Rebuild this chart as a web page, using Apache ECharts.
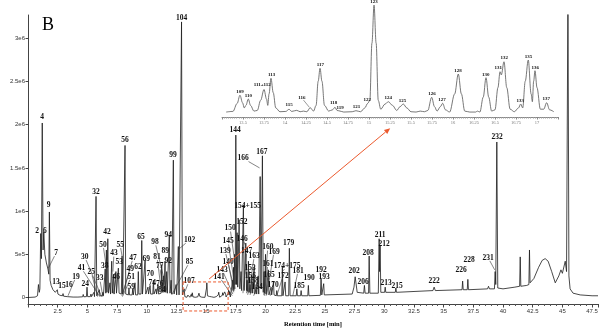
<!DOCTYPE html>
<html>
<head>
<meta charset="utf-8">
<script src="https://cdn.jsdelivr.net/npm/echarts@6/dist/echarts.min.js"></script>
<style>
  html, body { margin: 0; padding: 0; background: #fff; }
  #chart { width: 600px; height: 328px; }
</style>
</head>
<body>
<div id="chart"></div>
<script>
// Base peak chromatogram, [retention time (min), intensity (counts)]
const traceEarly = [
  [0, 0], [0.6, 0.005e6], [0.8, 0.02e6], [0.88, 0.15e6], [0.95, 0.06e6], [1.0, 0.1e6],
  [1.07, 0.74e6], [1.13, 0.45e6], [1.2, 2.02e6], [1.27, 0.55e6], [1.33, 0.76e6],
  [1.42, 0.5e6], [1.55, 0.4e6], [1.68, 0.33e6], [1.75, 0.27e6], [1.8, 0.99e6],
  [1.86, 0.2e6], [1.95, 0.14e6], [2.1, 0.09e6], [2.3, 0.06e6], [2.42, 0.05e6],
  [2.47, 0.09e6], [2.52, 0.04e6], [2.62, 0.03e6], [2.66, 0.05e6], [2.7, 0.025e6],
  [2.9, 0.02e6], [2.95, 0.045e6], [3.0, 0.015e6], [3.3, 0.01e6], [3.36, 0.03e6],
  [3.42, 0.008e6], [3.8, 0.005e6], [4.2, 0.005e6], [4.25, 0.025e6], [4.3, 0.005e6],
  [4.6, 0.008e6], [4.65, 0.035e6], [4.7, 0.008e6], [4.92, 0.01e6], [4.97, 0.12e6],
  [5.02, 0.01e6], [5.25, 0.01e6], [5.3, 0.04e6], [5.35, 0.01e6], [5.5, 0.01e6],
  [5.55, 0.06e6], [5.6, 0.01e6], [5.67, 0.01e6], [5.73, 1.17e6], [5.79, 0.02e6],
  [5.95, 0.02e6], [6.0, 0.09e6], [6.05, 0.02e6], [6.25, 0.02e6], [6.3, 0.06e6],
  [6.35, 0.02e6], [6.45, 0.03e6], [6.5, 0.33e6], [6.55, 0.05e6], [6.6, 0.55e6],
  [6.65, 0.06e6], [6.72, 0.68e6], [6.78, 0.05e6], [6.85, 0.04e6], [6.9, 0.17e6],
  [6.95, 0.04e6], [7.0, 0.05e6], [7.05, 0.42e6], [7.1, 0.05e6], [7.15, 0.05e6],
  [7.2, 0.27e6], [7.25, 0.04e6], [7.35, 0.04e6], [7.4, 0.3e6], [7.45, 0.05e6],
  [7.55, 0.05e6], [7.61, 0.34e6], [7.67, 0.05e6], [7.86, 0.04e6], [7.92, 0.48e6],
  [7.98, 0.04e6], [8.11, 0.04e6], [8.17, 1.76e6], [8.23, 0.04e6], [8.3, 0.03e6],
  [8.45, 0.03e6], [8.5, 0.1e6], [8.55, 0.03e6], [8.77, 0.03e6], [8.82, 0.1e6],
  [8.87, 0.03e6], [8.96, 0.03e6], [9.01, 0.17e6], [9.06, 0.03e6], [9.24, 0.03e6],
  [9.29, 0.3e6], [9.34, 0.04e6], [9.52, 0.04e6], [9.58, 0.66e6], [9.64, 0.04e6],
  [9.8, 0.04e6], [9.86, 0.43e6], [9.92, 0.04e6], [10.05, 0.04e6], [10.1, 0.12e6],
  [10.15, 0.04e6], [10.23, 0.04e6], [10.28, 0.14e6], [10.33, 0.04e6], [10.51, 0.04e6],
  [10.56, 0.2e6], [10.61, 0.04e6], [10.73, 0.04e6], [10.78, 0.1e6], [10.83, 0.04e6],
  [10.9, 0.04e6], [10.95, 0.15e6], [11.0, 0.04e6], [11.21, 0.05e6], [11.26, 0.38e6],
  [11.31, 0.06e6], [11.36, 0.06e6], [11.4, 0.25e6], [11.45, 0.06e6], [11.5, 0.06e6],
  [11.54, 0.42e6], [11.59, 0.06e6], [11.64, 0.06e6], [11.68, 0.3e6], [11.73, 0.05e6],
  [11.84, 0.05e6], [11.9, 0.72e6], [11.96, 0.05e6], [12.0, 0.05e6], [12.05, 0.2e6],
  [12.1, 0.04e6], [12.18, 0.04e6], [12.24, 1.59e6], [12.3, 0.04e6], [12.42, 0.03e6],
  [12.47, 0.15e6], [12.52, 0.03e6], [12.6, 0.03e6], [12.66, 0.59e6], [12.72, 0.03e6],
  [12.86, 0.03e6], [12.93, 3.19e6], [13.0, 0.03e6], [13.08, 0.02e6], [13.15, 0.1e6],
  [13.21, 0.01e6]
];

// 13.3 - 17.2 min, the stretch shown enlarged in the inset
const traceZoom = [
  [13.3, 1.5e3], [13.38, 2.5e3], [13.43, 15e3], [13.464, 28e3], [13.495, 16e3],
  [13.515, 8e3], [13.535, 12e3], [13.563, 22e3], [13.59, 12e3], [13.63, 3e3],
  [13.67, 4e3], [13.71, 20e3], [13.75, 37e3], [13.78, 22e3], [13.795, 12e3],
  [13.81, 30e3], [13.833, 54.6e3], [13.86, 32e3], [13.89, 8e3], [13.94, 2e3],
  [14.01, 2.5e3], [14.048, 5.8e3], [14.08, 2.5e3], [14.14, 4.2e3], [14.18, 2e3],
  [14.22, 3e3], [14.26, 2e3], [14.3, 8.3e3], [14.34, 3e3], [14.37, 12e3],
  [14.395, 50e3], [14.417, 70.4e3], [14.44, 50e3], [14.47, 12e3], [14.52, 3e3],
  [14.565, 5e3], [14.595, 9e3], [14.62, 4e3], [14.64, 3.5e3], [14.7, 1.5e3],
  [14.8, 2e3], [14.845, 3.6e3], [14.9, 2e3], [14.95, 8e3], [14.985, 15.3e3],
  [15.01, 20e3], [15.035, 110e3], [15.06, 170e3], [15.085, 110e3], [15.11, 20e3],
  [15.14, 6e3], [15.19, 14e3], [15.23, 17.8e3], [15.28, 12e3], [15.33, 4e3],
  [15.37, 10e3], [15.408, 14.2e3], [15.45, 8e3], [15.5, 2e3], [15.56, 1.5e3],
  [15.61, 3e3], [15.66, 2e3], [15.7, 4e3], [15.746, 24.7e3], [15.78, 10e3],
  [15.81, 3e3], [15.85, 10e3], [15.877, 15.3e3], [15.91, 5e3], [15.96, 1.5e3],
  [16.02, 30e3], [16.063, 61.4e3], [16.1, 30e3], [16.14, 3e3], [16.2, 1.5e3],
  [16.27, 1.5e3], [16.29, 3e3], [16.32, 1.5e3], [16.36, 25e3], [16.393, 55.6e3],
  [16.425, 25e3], [16.46, 3e3], [16.5, 5e3], [16.535, 40e3], [16.56, 65e3],
  [16.575, 60e3], [16.607, 80.7e3], [16.64, 40e3], [16.68, 6e3], [16.73, 2e3],
  [16.78, 8e3], [16.806, 14.2e3], [16.83, 8e3], [16.86, 50e3], [16.896, 83.4e3],
  [16.93, 30e3], [16.945, 17.8e3], [16.96, 50e3], [16.976, 66.6e3], [17.0, 40e3],
  [17.04, 6e3], [17.08, 6e3], [17.115, 16.2e3], [17.15, 5e3], [17.2, 2e3]
];

const traceLate = [
  [17.23, 0.2e6], [17.27, 0.08e6], [17.31, 0.35e6], [17.35, 0.1e6], [17.4, 0.5e6],
  [17.45, 0.15e6], [17.5, 1.88e6], [17.56, 0.15e6], [17.61, 0.75e6], [17.66, 0.12e6],
  [17.72, 0.1e6], [17.78, 0.9e6], [17.84, 0.1e6], [17.89, 0.08e6], [17.94, 0.3e6],
  [17.99, 0.08e6], [18.08, 0.08e6], [18.14, 1.07e6], [18.2, 0.08e6], [18.28, 0.08e6],
  [18.34, 0.63e6], [18.4, 0.08e6], [18.45, 0.2e6], [18.5, 0.07e6], [18.56, 0.42e6],
  [18.62, 0.06e6], [18.7, 0.15e6], [18.77, 0.05e6], [18.85, 0.25e6], [18.92, 0.05e6],
  [19.04, 0.35e6], [19.1, 0.04e6], [19.16, 0.04e6], [19.21, 0.12e6], [19.26, 0.04e6],
  [19.33, 0.04e6], [19.38, 0.25e6], [19.43, 0.04e6], [19.49, 0.05e6], [19.55, 1.4e6],
  [19.62, 0.1e6], [19.66, 0.1e6], [19.74, 1.64e6], [19.81, 0.06e6], [19.84, 0.06e6],
  [19.88, 0.3e6], [19.93, 0.05e6], [19.96, 0.05e6], [20.0, 0.5e6], [20.05, 0.04e6],
  [20.19, 0.04e6], [20.24, 0.32e6], [20.29, 0.03e6], [20.42, 0.03e6], [20.47, 0.12e6],
  [20.52, 0.03e6], [20.62, 0.03e6], [20.67, 0.18e6], [20.72, 0.03e6], [20.9, 0.02e6],
  [20.95, 0.08e6], [21.0, 0.02e6], [21.37, 0.02e6], [21.42, 0.36e6], [21.47, 0.02e6],
  [21.6, 0.02e6], [21.65, 0.18e6], [21.7, 0.02e6], [21.95, 0.02e6], [22.01, 0.57e6],
  [22.07, 0.02e6], [22.59, 0.02e6], [22.64, 0.1e6], [22.69, 0.02e6], [22.95, 0.02e6],
  [23.0, 0.08e6], [23.05, 0.02e6], [23.56, 0.02e6], [23.61, 0.14e6], [23.66, 0.02e6],
  [24.62, 0.025e6], [24.68, 0.22e6], [24.74, 0.03e6], [24.85, 0.03e6], [24.9, 0.16e6],
  [24.95, 0.03e6], [27.3, 0.04e6], [27.45, 0.12e6], [27.55, 0.24e6], [27.62, 0.22e6],
  [27.72, 0.06e6], [28.27, 0.05e6], [28.33, 0.14e6], [28.39, 0.05e6], [28.68, 0.05e6],
  [28.73, 0.48e6], [28.79, 0.05e6], [29.5, 0.05e6], [29.57, 0.68e6], [29.61, 0.3e6],
  [29.65, 0.6e6], [29.71, 0.06e6], [30.03, 0.06e6], [30.08, 0.12e6], [30.13, 0.06e6],
  [30.93, 0.06e6], [30.98, 0.11e6], [31.03, 0.06e6], [34.1, 0.08e6], [34.2, 0.12e6],
  [34.3, 0.08e6], [36.55, 0.09e6], [36.6, 0.19e6], [36.65, 0.09e6], [36.99, 0.09e6],
  [37.04, 0.21e6], [37.09, 0.09e6], [38.7, 0.1e6], [38.78, 0.13e6], [38.86, 0.1e6],
  [39.28, 0.1e6], [39.34, 0.3e6], [39.39, 0.15e6], [39.48, 1.8e6], [39.56, 0.11e6],
  [40.0, 0.1e6], [41.0, 0.12e6], [41.4, 0.13e6], [41.45, 0.47e6], [41.5, 0.13e6],
  [42.0, 0.14e6], [42.18, 0.15e6], [42.23, 0.55e6], [42.28, 0.17e6], [42.6, 0.22e6],
  [43.0, 0.35e6], [43.3, 0.43e6], [43.55, 0.45e6], [43.8, 0.42e6], [44.1, 0.3e6],
  [44.4, 0.17e6], [44.7, 0.25e6], [44.88, 0.32e6], [45.0, 0.28e6], [45.24, 0.42e6],
  [45.35, 0.3e6], [45.47, 3.6e6], [45.55, 0.25e6], [45.65, 0.1e6], [45.9, 0.05e6],
  [46.5, 0.03e6], [47.5, 0.02e6], [48.0, 0.02e6]
];

const yTicks = [0, 0.5e6, 1e6, 1.5e6, 2e6, 2.5e6, 3e6];
const xTickLabels = [2.5, 5, 7.5, 10, 12.5, 15, 17.5, 20, 22.5, 25, 27.5, 30, 32.5, 35, 37.5, 40, 42.5, 45, 47.5];
const zoomTickLabels = [13.5, 13.75, 14, 14.25, 14.5, 14.75, 15, 15.25, 15.5, 15.75, 16, 16.25, 16.5, 16.75, 17];

// Peak numbers: [label, time, counts] placement, optional [time, counts] the leader points to
const mainTags = [
  ['4', 1.18, 2.09e6], ['2', 0.76, 0.77e6], ['6', 1.43, 0.77e6], ['9', 1.74, 1.07e6],
  ['7', 2.36, 0.515e6, 1.72, 0.34e6], ['13', 2.36, 0.18e6], ['15', 2.86, 0.133e6],
  ['16', 3.45, 0.145e6], ['19', 4.04, 0.24e6, 3.37, 0.02e6], ['24', 4.83, 0.155e6],
  ['41', 4.5, 0.34e6, 6.04, 0.01e6], ['25', 5.33, 0.29e6, 5.86, 0.01e6],
  ['30', 4.78, 0.47e6, 6.2, 0.01e6], ['33', 6.04, 0.22e6, 6.3, 0.01e6],
  ['32', 5.73, 1.22e6], ['38', 6.46, 0.36e6], ['50', 6.32, 0.61e6, 6.6, 0.35e6],
  ['42', 6.66, 0.76e6], ['43', 7.24, 0.51e6, 7.15, 0.3e6], ['55', 7.76, 0.61e6, 7.92, 0.48e6],
  ['53', 7.68, 0.41e6], ['46', 7.43, 0.24e6, 7.2, 0.05e6], ['47', 8.85, 0.46e6, 7.98, 0.04e6],
  ['49', 8.6, 0.33e6, 7.9, 0.02e6], ['51', 8.7, 0.24e6, 7.95, 0.01e6], ['59', 8.7, 0.12e6],
  ['62', 9.27, 0.35e6], ['65', 9.52, 0.7e6], ['69', 9.96, 0.45e6], ['70', 10.3, 0.27e6],
  ['74', 10.46, 0.17e6], ['76', 11.1, 0.16e6, 10.8, 0.06e6], ['84', 11.29, 0.09e6],
  ['81', 10.87, 0.47e6, 11.2, 0.1e6], ['77', 11.1, 0.36e6, 11.38, 0.06e6],
  ['98', 10.7, 0.64e6, 11.75, 0.05e6], ['89', 11.55, 0.54e6], ['92', 11.8, 0.42e6],
  ['94', 11.8, 0.72e6], ['99', 12.22, 1.65e6], ['56', 8.17, 1.82e6], ['104', 12.93, 3.23e6],
  ['102', 13.6, 0.665e6, 12.7, 0.56e6], ['85', 13.6, 0.41e6, 12.1, 0.03e6],
  ['107', 13.56, 0.19e6, 13.22, 0.07e6],
  ['141', 16.1, 0.24e6, 17.2, 0.02e6], ['143', 16.35, 0.32e6, 17.25, 0.04e6],
  ['140', 16.85, 0.41e6, 17.33, 0.06e6], ['139', 16.6, 0.54e6, 17.4, 0.08e6],
  ['145', 16.85, 0.65e6, 17.45, 0.1e6], ['150', 17.02, 0.8e6, 17.58, 0.25e6],
  ['144', 17.44, 1.94e6], ['152', 18.0, 0.87e6], ['154+155', 18.5, 1.06e6],
  ['146', 18.03, 0.68e6, 18.34, 0.6e6], ['147', 18.42, 0.54e6, 18.1, 0.05e6],
  ['163', 19.05, 0.48e6, 18.6, 0.05e6], ['153', 18.7, 0.34e6, 18.4, 0.05e6],
  ['156', 18.72, 0.25e6, 18.5, 0.03e6], ['158', 18.96, 0.19e6, 18.7, 0.03e6],
  ['164', 19.3, 0.12e6, 19.0, 0.02e6], ['166', 18.11, 1.61e6, 19.5, 1.5e6],
  ['167', 19.7, 1.68e6], ['160', 20.2, 0.58e6, 19.85, 0.03e6],
  ['169', 20.72, 0.53e6, 20.1, 0.03e6], ['161', 20.2, 0.39e6, 19.9, 0.02e6],
  ['165', 20.3, 0.26e6, 20.05, 0.02e6], ['170', 20.64, 0.145e6, 20.4, 0.02e6],
  ['174+175', 21.82, 0.365e6, 21.42, 0.3e6], ['172', 21.48, 0.25e6, 20.95, 0.02e6],
  ['179', 21.95, 0.63e6], ['181', 22.75, 0.31e6, 22.3, 0.02e6], ['185', 22.83, 0.133e6],
  ['190', 23.67, 0.23e6], ['192', 24.68, 0.32e6], ['193', 24.94, 0.24e6],
  ['202', 27.46, 0.31e6], ['206', 28.22, 0.18e6], ['208', 28.64, 0.515e6],
  ['211', 29.65, 0.72e6], ['212', 29.99, 0.62e6], ['213', 30.16, 0.17e6],
  ['215', 31.09, 0.13e6], ['222', 34.2, 0.19e6], ['226', 36.48, 0.32e6],
  ['228', 37.15, 0.43e6], ['231', 38.75, 0.46e6, 39.3, 0.32e6], ['232', 39.51, 1.86e6]
];

const zoomTags = [
  ['109', 13.464, 34e3], ['110', 13.563, 28e3], ['111+112', 13.73, 45e3], ['113', 13.84, 60e3],
  ['115', 14.05, 12.5e3], ['116', 14.2, 23.6e3, 14.29, 9e3], ['117', 14.42, 76e3],
  ['118', 14.58, 15.5e3], ['119', 14.655, 8.5e3], ['121', 14.85, 9.5e3], ['122', 14.98, 21.5e3],
  ['123', 15.06, 175e3], ['124', 15.23, 23.6e3], ['125', 15.4, 19e3], ['126', 15.75, 31e3],
  ['127', 15.87, 21.5e3], ['128', 16.06, 67e3], ['130', 16.39, 61e3], ['131', 16.54, 71e3],
  ['132', 16.61, 87e3], ['133', 16.8, 20e3], ['135', 16.9, 89e3], ['136', 16.98, 72e3],
  ['137', 17.11, 22e3]
];

// Enlarged window (t0, counts0, t1, counts1) and the arrow pointing at the inset
const zoomBox = [13.06, 0.18e6, 16.85, -0.156e6];
const zoomArrow = [15.25, 0.214e6, 30.5, 1.96e6];

const SERIF = '"Liberation Serif", "Times New Roman", serif';
const SANS = '"Liberation Sans", Arial, sans-serif';
const RED = '#ec5a2e';

function tagRenderer(tags, fontSize, lineColor) {
  return function (params, api) {
    const d = tags[params.dataIndex];
    const p = api.coord([d[1], d[2]]);
    const kids = [];
    if (d.length > 3) {
      const q = api.coord([d[3], d[4]]);
      const dx = q[0] - p[0], dy = q[1] - p[1];
      const len = Math.hypot(dx, dy) || 1;
      const ux = dx / len, uy = dy / len;
      const hw = d[0].length * fontSize * 0.27 + 0.5;
      const hh = fontSize * 0.42;
      const s = Math.min(Math.abs(ux) > 1e-6 ? hw / Math.abs(ux) : 1e9,
                         Math.abs(uy) > 1e-6 ? hh / Math.abs(uy) : 1e9);
      kids.push({
        type: 'line',
        shape: { x1: p[0] + ux * s, y1: p[1] + uy * s, x2: q[0], y2: q[1] },
        style: { stroke: lineColor, lineWidth: 0.6 }
      });
    }
    kids.push({
      type: 'text', x: p[0], y: p[1],
      style: {
        text: d[0], fontSize: fontSize, fontWeight: 'bold', fontFamily: SERIF,
        fill: '#111', align: 'center', verticalAlign: 'middle'
      }
    });
    return { type: 'group', children: kids };
  };
}

function yLabel(v) {
  if (v === 0) return '0';
  if (v < 1e6) return (v / 1e5) + 'e5';
  return (v / 1e6) + 'e6';
}

const chart = echarts.init(document.getElementById('chart'), null, { renderer: 'canvas' });

chart.setOption({
  animation: false,
  backgroundColor: '#fff',
  graphic: [{
    type: 'text', left: 42, top: 16,
    style: { text: 'B', fontSize: 18, fontFamily: SERIF, fill: '#000' }
  }],
  grid: [
    { left: 28, right: 2, top: 15, bottom: 24, outerBoundsMode: 'none', containLabel: false },
    { left: 222, right: 42, top: 0, height: 117, outerBoundsMode: 'none', containLabel: false }
  ],
  xAxis: [{
    type: 'value', gridIndex: 0, min: 0, max: 48, interval: 2.5,
    name: 'Retention time [min]', nameLocation: 'middle', nameGap: 17,
    nameTextStyle: { fontFamily: SERIF, fontWeight: 'bold', fontSize: 6.5, color: '#000' },
    axisLine: { show: true, onZero: false, lineStyle: { color: '#444', width: 1 } },
    axisTick: { show: true, length: 3.5, lineStyle: { color: '#444' } },
    minorTick: { show: true, splitNumber: 5, length: 2, lineStyle: { color: '#555' } },
    axisLabel: {
      customValues: xTickLabels, fontSize: 6, fontFamily: SANS, color: '#333', margin: 4
    },
    splitLine: { show: false }, minorSplitLine: { show: false }
  }, {
    type: 'value', gridIndex: 1, min: 13.25, max: 17.25, interval: 0.25,
    axisLine: { show: true, onZero: false, lineStyle: { color: '#888', width: 1 } },
    axisTick: { show: true, length: 2.5, lineStyle: { color: '#888' } },
    minorTick: { show: true, splitNumber: 10, length: 1.5, lineStyle: { color: '#999' } },
    axisLabel: {
      customValues: zoomTickLabels, fontSize: 4.5, fontFamily: SERIF, color: '#777', margin: 3
    },
    splitLine: { show: false }, minorSplitLine: { show: false }
  }],
  yAxis: [{
    type: 'value', gridIndex: 0, min: -0.0752e6, max: 3.27e6,
    name: 'BPI [Counts]', nameLocation: 'middle', nameGap: 18,
    nameTextStyle: { fontFamily: SANS, fontSize: 6, color: '#333' },
    axisLine: { show: true, onZero: false, lineStyle: { color: '#444', width: 1 } },
    axisTick: { show: true, length: 2.5, customValues: yTicks, lineStyle: { color: '#444' } },
    axisLabel: {
      customValues: yTicks, formatter: yLabel, fontSize: 6, fontFamily: SANS, color: '#333', margin: 3
    },
    splitLine: { show: false }
  }, {
    type: 'value', gridIndex: 1, min: -6300, max: 178000, show: false,
    splitLine: { show: false }
  }],
  series: [{
    name: 'BPI',
    type: 'line', xAxisIndex: 0, yAxisIndex: 0,
    data: traceEarly.concat(traceZoom, traceLate),
    showSymbol: false, symbol: 'none', silent: true,
    lineStyle: { color: '#1c1c1c', width: 0.8 },
    clip: true, z: 3
  }, {
    name: 'BPI 13.3-17.2 min',
    type: 'line', xAxisIndex: 1, yAxisIndex: 1,
    data: traceZoom,
    showSymbol: false, symbol: 'none', silent: true,
    smooth: 0.35, smoothMonotone: 'x',
    lineStyle: { color: '#555', width: 0.8 },
    clip: true, z: 3
  }, {
    type: 'custom', xAxisIndex: 0, yAxisIndex: 0, silent: true, z: 5,
    data: mainTags.map(d => [d[1], d[2]]),
    renderItem: tagRenderer(mainTags, 7.5, '#333')
  }, {
    type: 'custom', xAxisIndex: 1, yAxisIndex: 1, silent: true, z: 5,
    data: zoomTags.map(d => [d[1], d[2]]),
    renderItem: tagRenderer(zoomTags, 5, '#555')
  }, {
    type: 'custom', xAxisIndex: 0, yAxisIndex: 0, silent: true, z: 6,
    data: [[zoomBox[0], zoomBox[1]]],
    renderItem: function (params, api) {
      const a = api.coord([zoomBox[0], zoomBox[1]]);
      const b = api.coord([zoomBox[2], zoomBox[3]]);
      const s = api.coord([zoomArrow[0], zoomArrow[1]]);
      const e = api.coord([zoomArrow[2], zoomArrow[3]]);
      const ang = Math.atan2(e[1] - s[1], e[0] - s[0]);
      const L = 6, W = 2.6;
      const bx = e[0] - Math.cos(ang) * L, by = e[1] - Math.sin(ang) * L;
      const nx = -Math.sin(ang) * W, ny = Math.cos(ang) * W;
      return {
        type: 'group',
        children: [{
          type: 'rect',
          shape: { x: a[0], y: a[1], width: b[0] - a[0], height: b[1] - a[1] },
          style: { fill: 'none', stroke: RED, lineWidth: 1, lineDash: [3, 2] }
        }, {
          type: 'line',
          shape: { x1: s[0], y1: s[1], x2: bx, y2: by },
          style: { stroke: RED, lineWidth: 1 }
        }, {
          type: 'polygon',
          shape: { points: [[e[0], e[1]], [bx + nx, by + ny], [bx - nx, by - ny]] },
          style: { fill: RED }
        }]
      };
    }
  }]
});
</script>
</body>
</html>
